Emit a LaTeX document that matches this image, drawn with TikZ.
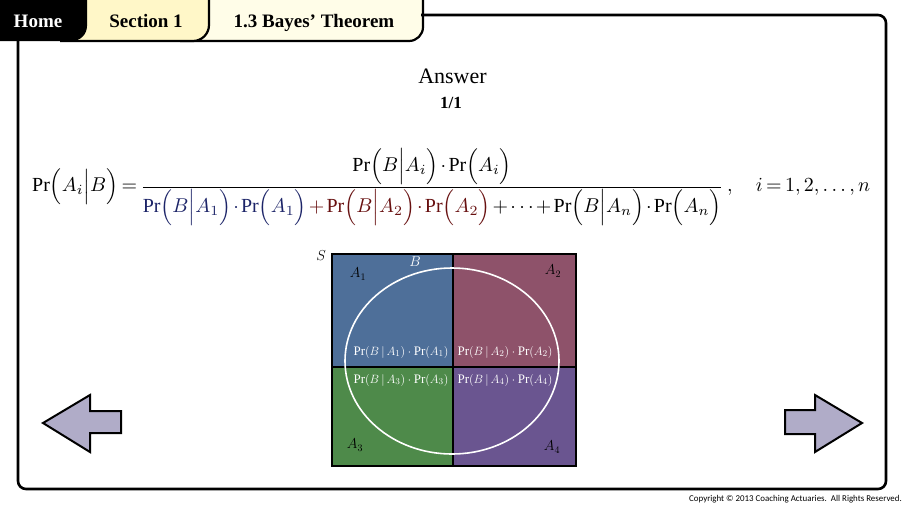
\documentclass[tikz,border=0pt]{standalone}
\usepackage{amsmath}
\usepackage{graphicx}
\usepackage{fontspec}
\setmainfont{Liberation Serif}
\newfontfamily\copyfont{Carlito}
\definecolor{tabsec}{RGB}{255,247,200}
\definecolor{tabtop}{RGB}{255,253,232}
\definecolor{cellA}{RGB}{78,111,153}
\definecolor{cellB}{RGB}{142,82,106}
\definecolor{cellC}{RGB}{78,138,74}
\definecolor{cellD}{RGB}{106,85,144}
\definecolor{arrowfill}{RGB}{176,172,200}
\definecolor{navyterm}{RGB}{28,36,104}
\definecolor{maroonterm}{RGB}{104,16,16}
\newcommand{\PrP}[1]{\Pr\Bigl(#1\Bigr)}
\newcommand{\PrC}[2]{\Pr\Bigl(#1\Big|#2\Bigr)}
\begin{document}
\begin{tikzpicture}[x=1pt,y=-1pt,
  tabtext/.style={anchor=base,inner sep=0pt,font=\fontsize{19}{22}\selectfont\bfseries},
  tabborder/.style={line width=2.2pt},
  framebox/.style={line width=2.6pt,rounded corners=8pt},
  celltext/.style={text=white,inner sep=0pt,font=\fontsize{13}{15}\selectfont},
  setlabel/.style={inner sep=0pt,font=\fontsize{14}{16}\selectfont},
  navarrow/.style={fill=arrowfill,draw=black,line width=2pt,line join=miter},
  gridline/.style={line width=1.1pt}]
\useasboundingbox (0,0) rectangle (904,507);
\fill[white] (0,0) rectangle (904,507);
\begin{scope}
\clip (0,0) rectangle (904,507);
% tabs
\fill[tabtop,rounded corners=14pt] (180,41) -- (423,41) -- (423,-30) -- (180,-30) -- cycle;
\draw[tabborder,rounded corners=14pt] (423,-10) -- (423,41) -- (180,41);
\fill[tabsec,rounded corners=16pt] (60,41) -- (209,41) -- (209,-30) -- (60,-30) -- cycle;
\draw[tabborder,rounded corners=16pt] (209,-10) -- (209,41) -- (60,41);
\fill[black,rounded corners=15pt] (-30,41) -- (87,41) -- (87,-30) -- (-30,-30) -- cycle;
\end{scope}
\node[tabtext,text=white] (home) at (38,27) {Home};
\node[tabtext] (sec) at (146,27) {Section 1};
\node[tabtext] (topic) at (314,27) {1.3 Bayes' Theorem};
% frame
\draw[framebox] (421,15) -- (886,15) -- (886,489) -- (18,489) -- (18,40);
% title
\node[anchor=base,inner sep=0pt,font=\fontsize{22}{26}\selectfont] (answer) at (452.5,83) {Answer};
\node[anchor=base,inner sep=0pt,font=\fontsize{17}{20}\selectfont\bfseries] (count) at (451,108) {1/1};
% formula
\node[anchor=west,inner sep=0pt] (bayes) at (32,187) {\resizebox{838pt}{!}{\medmuskip=2mu\thickmuskip=3mu$\displaystyle
\PrC{A_i}{B}=\frac{\PrC{B}{A_i}\cdot\PrP{A_i}}{\color{navyterm}\PrC{B}{A_1}\cdot\PrP{A_1}\color{maroonterm}+\PrC{B}{A_2}\cdot\PrP{A_2}\color{black}+\cdots+\PrC{B}{A_n}\cdot\PrP{A_n}}\;,\quad i=1,2,\ldots,n$}};
% Venn diagram
\fill[cellA] (332,254) rectangle (453,367);
\fill[cellB] (453,254) rectangle (576,367);
\fill[cellC] (332,367) rectangle (453,466);
\fill[cellD] (453,367) rectangle (576,466);
\draw[gridline] (453,254) -- (453,466);
\draw[gridline] (332,367) -- (576,367);
\draw[line width=1.4pt] (332,254) rectangle (576,466);
\draw[white,line width=1.6pt] (452,361) ellipse [x radius=107pt,y radius=93pt];
\node[setlabel] (S) at (321,256) {$S$};
\node[setlabel] (A1) at (358,274) {$A_1$};
\node[setlabel,text=white] (B) at (415,262) {$B$};
\node[setlabel] (A2) at (553,271) {$A_2$};
\node[setlabel] (A3) at (355,445) {$A_3$};
\node[setlabel] (A4) at (552,447) {$A_4$};
\node[celltext] (p1) at (401,352) {$\Pr(B\,|\,A_1)\cdot\Pr(A_1)$};
\node[celltext] (p2) at (505,352) {$\Pr(B\,|\,A_2)\cdot\Pr(A_2)$};
\node[celltext] (p3) at (401,380) {$\Pr(B\,|\,A_3)\cdot\Pr(A_3)$};
\node[celltext] (p4) at (505,380) {$\Pr(B\,|\,A_4)\cdot\Pr(A_4)$};
% navigation arrows
\draw[navarrow] (43,423) -- (90,395) -- (90,411) -- (121,411) -- (121,433) -- (90,433) -- (90,452) -- cycle;
\draw[navarrow] (862,423) -- (815,395) -- (815,410) -- (785,410) -- (785,434) -- (815,434) -- (815,452) -- cycle;
% copyright
\node[anchor=base east,inner sep=0pt,font=\copyfont\fontsize{8.9}{10}\selectfont] (copy) at (902,501) {Copyright © 2013 Coaching Actuaries.\ \ All Rights Reserved.};
\end{tikzpicture}
\end{document}
